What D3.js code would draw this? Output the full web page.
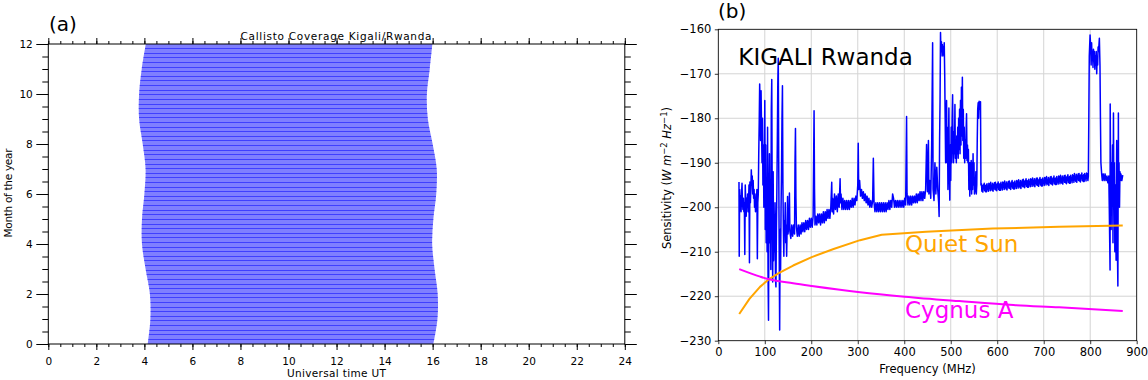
<!DOCTYPE html>
<html>
<head>
<meta charset="utf-8">
<script src="https://cdn.jsdelivr.net/npm/d3@7"></script>
<style>
  body { margin: 0; background: #fff; }
  svg { display: block; }
  text { font-family: "DejaVu Sans", sans-serif; }
</style>
</head>
<body>
<svg id="chart" width="1148" height="380"></svg>
<script>
// ---------- panel (a) data : observing window per month (UT hours)
const coverageMonths = [0, 1, 2, 3, 4, 5, 6, 7, 8, 9, 10, 11, 12];
const sunriseUT = [4.14, 4.25, 4.23, 4.05, 3.90, 3.90, 4.00, 4.05, 3.93, 3.78, 3.78, 3.89, 4.06];
const sunsetUT  = [16.03, 16.20, 16.21, 16.08, 15.98, 16.03, 16.15, 16.17, 16.00, 15.80, 15.76, 15.88, 15.99];
const daysInYear = 365;
const xTicksA = [0, 2, 4, 6, 8, 10, 12, 14, 16, 18, 20, 22, 24];
const yTicksA = [0, 2, 4, 6, 8, 10, 12];

// ---------- panel (b) data : sensitivity spectrum [MHz, dB]
const spectrum = [
 [44.5,-194.3],[45,-211],[46,-196],[47,-200.5],[48,-197.5],[49,-201],[50,-197],[51,-194.6],[52,-199],[53,-200.5],
 [54,-198],[55,-201],[56,-199],[57,-210.6],[58,-195],[59,-199],[60,-202],[61,-198],[62,-200],[63,-197],[64,-201],
 [65,-199],[66,-195],[67,-212.5],[68,-194.3],[69,-199],[70,-196],[71,-191.6],[72,-195],[73,-193],[74,-197],[75,-194],
 [76,-198],[77,-196],[78,-200],[79,-197],[80,-201],[81,-198],[82,-199],[83,-196],[84,-211.6],[85,-199],[86,-197],
 [87,-188],[88,-181],[89,-172.3],[90,-178],[91,-185],[92,-173.8],[93,-182],[94,-190],[95,-180],[96,-195],[97,-186],
 [98,-200],[99,-192],[100,-176],[101,-205],[102,-186],[103,-208],[104,-194],[105,-210],[106,-182],[107,-215],
 [108,-225.4],[109,-198],[110,-188],[111,-208],[112,-196],[113,-214],[114,-178],[115,-171.3],[116,-200],[117,-216.8],
 [118,-192],[119,-212],[120,-203],[121,-210],[122,-199],[123,-216],[124,-217.9],[125,-205],[126,-196],[127,-185],
 [128,-172],[129,-166.5],[130,-190],[131,-210],[132,-227.6],[133,-205],[134,-214],[135,-200],[136,-192],[137,-180],
 [138,-172.7],[139,-195],[140,-205],[141,-211],[142,-203],[143,-206],[144,-199],[145,-208],[146,-204],[147,-211],
 [148,-205],[149,-197.6],[150,-206],[152,-203.5],[153,-196.8],[154,-205.5],[156,-207],[158,-204],[160,-206.5],
 [162,-204],[164,-206],[165,-190],[166,-182.3],[167,-198],[168,-204.5],[170,-206.5],[172,-204],[174,-206.5],
 [176,-204],[178,-206],[180,-203.5],[182,-205.5],[184,-203.5],[186,-205.5],[188,-203],[190,-205],[192,-203],
 [194,-205],[196,-202.5],[198,-204.5],[200,-202.5],[202,-204.5],[204,-202],[206,-178.3],[207,-196],[208,-204],
 [210,-202],[212,-204],[214,-201.5],[216,-203.5],[218,-201.5],[220,-204],[222,-201.5],[224,-203.5],[226,-201],
 [228,-203.5],[230,-201],[232,-203],[234,-200.5],[236,-202.5],[238,-200.5],[240,-202.5],[242,-200],[244,-194.4],
 [245,-201],[246,-198],[248,-201.5],[250,-197],[252,-200.5],[254,-197.5],[256,-201],[258,-197],[260,-200],
 [262,-193.6],[263,-199],[264,-197],[266,-200.5],[268,-198],[270,-200.5],[272,-198.5],[274,-200.5],[276,-198.5],
 [278,-200.5],[280,-198.5],[282,-200.5],[284,-198.5],[286,-200],[288,-198],[290,-200],[292,-198],[294,-199.5],
 [296,-197.5],[298,-198.5],[300,-195],[301,-185.6],[302,-196],[304,-194],[306,-197.5],[308,-196],[310,-198],
 [312,-196.5],[314,-198.5],[316,-197],[318,-199],[320,-197.5],[322,-199.5],[324,-198],[326,-200],[328,-198.5],
 [330,-200],[332,-198.5],[333.5,-189],[335,-199],[337,-201],[339,-199],[341,-201],[343,-199],[345,-201],[347,-199],
 [349,-201],[351,-199],[353,-201],[355,-199],[357,-201],[359,-199],[361,-201],[363,-199],[365,-200.5],[367,-198.5],
 [369,-200.5],[371,-198.5],[373,-200],[375,-197],[377,-198],[379,-200],[381,-198.5],[383,-200],[385,-198.5],
 [387,-200],[389,-198.5],[391,-200],[393,-198.5],[395,-200],[397,-198.5],[399,-200],[401,-198],[403,-199.5],
 [405,-179.6],[406,-197],[408,-199.5],[410,-197.5],[412,-199.5],[414,-197.5],[416,-199.5],[418,-197.5],[420,-199],
 [422,-197.5],[424,-199],[426,-197],[428,-199],[430,-197],[432,-198.5],[434,-196.5],[436,-198.5],[438,-196.5],
 [440,-198.5],[442,-196.5],[444,-198],[446,-196],[448,-185.9],[450,-196.5],[452,-185],[453,-197],[455,-194],
 [457,-198],[459,-186],[461,-163],[462,-196],[464,-198.5],[466,-190],[468,-197],[470,-191],[472,-196],[474,-199],
 [475,-202.1],[476,-185],[477,-176],[478,-160.7],[479,-166],[480,-162.8],[481,-165],[482,-163.5],[483,-166],
 [484,-164],[485,-165.4],[486,-163],[487,-170],[488,-180],[489,-190],[490,-185],[491,-176],[492,-190],[493,-182],
 [494,-196],[495,-188],[496,-177.7],[497,-192],[498,-198.4],[499,-186],[500,-194],[501,-182],[502,-190],[503,-180],
 [504,-174.7],[505,-186],[506,-190],[507,-183],[508,-188],[509,-176.9],[510,-189],[511,-186],[512,-190],[513,-184],
 [514,-188],[515,-182],[516,-189],[517,-180],[518,-187],[519,-178],[520,-188],[521,-176],[522,-186],[523,-173],
 [524,-184],[525,-170.8],[526,-185],[527,-178],[528,-189],[529,-182],[530,-190],[531,-185],[532,-189],[533,-183],
 [534,-179],[535,-189.5],[536,-186],[537,-190],[538,-187],[539,-196],[540,-190],[541,-197.5],[542,-190],[543,-196],
 [544,-189.5],[545,-197],[546,-190],[547,-196],[548,-188],[549,-195],[550,-190],[551,-197],[552,-194],[553,-196.5],
 [554,-192],[555,-197],[556,-195],[557,-185],[558,-178],[559,-176.5],[560,-180],[561,-176.2],[562,-178],[563,-177],
 [564,-176.3],[565,-195],
 [566,-194.7],[567,-196.4],[568,-195.3],[569,-196.6],[570,-195.0],[571,-195.8],[572,-194.6],[573,-196.3],[574,-195.2],[575,-196.5],
 [576,-195.0],[577,-196.5],[578,-194.7],[579,-195.9],[580,-195.3],[581,-196.4],[582,-194.6],[583,-195.8],[584,-194.8],[585,-196.3],
 [586,-194.4],[587,-195.9],[588,-195.1],[589,-196.2],[590,-194.6],[591,-196.4],[592,-195.0],[593,-195.6],[594,-194.5],[595,-196.0],
 [596,-194.4],[597,-196.1],[598,-195.0],[599,-196.3],[600,-194.7],[601,-195.5],[602,-194.3],[603,-196.0],[604,-194.9],[605,-196.2],
 [606,-194.7],[607,-196.2],[608,-194.4],[609,-195.6],[610,-195.0],[611,-196.1],[612,-194.3],[613,-195.5],[614,-194.5],[615,-196.0],
 [616,-194.1],[617,-195.6],[618,-194.8],[619,-195.9],[620,-194.3],[621,-196.1],[622,-194.7],[623,-195.3],[624,-194.2],[625,-195.7],
 [626,-194.1],[627,-195.8],[628,-194.7],[629,-196.0],[630,-194.4],[631,-195.2],[632,-194.0],[633,-195.7],[634,-194.6],[635,-195.9],
 [636,-194.4],[637,-195.9],[638,-194.1],[639,-195.3],[640,-194.7],[641,-195.8],[642,-194.0],[643,-195.2],[644,-194.2],[645,-195.7],
 [646,-193.8],[647,-195.3],[648,-194.5],[649,-195.6],[650,-194.0],[651,-195.8],[652,-194.4],[653,-195.0],[654,-193.9],[655,-195.4],
 [656,-193.7],[657,-195.4],[658,-194.3],[659,-195.6],[660,-194.0],[661,-194.8],[662,-193.6],[663,-195.3],[664,-194.2],[665,-195.5],
 [666,-194.0],[667,-195.5],[668,-193.7],[669,-194.9],[670,-194.3],[671,-195.4],[672,-193.6],[673,-194.8],[674,-193.8],[675,-195.3],
 [676,-193.4],[677,-194.9],[678,-194.1],[679,-195.2],[680,-193.6],[681,-195.4],[682,-194.0],[683,-194.6],[684,-193.5],[685,-195.0],
 [686,-193.4],[687,-195.1],[688,-194.0],[689,-195.3],[690,-193.7],[691,-194.5],[692,-193.3],[693,-195.0],[694,-193.9],[695,-195.2],
 [696,-193.7],[697,-195.2],[698,-193.4],[699,-194.6],[700,-194.0],[701,-195.1],[702,-193.3],[703,-194.5],[704,-193.5],[705,-195.0],
 [706,-193.1],[707,-194.6],[708,-193.8],[709,-194.9],[710,-193.3],[711,-195.1],[712,-193.7],[713,-194.3],[714,-193.2],[715,-194.7],
 [716,-193.1],[717,-194.8],[718,-193.7],[719,-195.0],[720,-193.4],[721,-194.2],[722,-193.0],[723,-194.7],[724,-193.6],[725,-194.9],
 [726,-193.4],[727,-194.9],[728,-193.1],[729,-194.3],[730,-193.7],[731,-194.8],[732,-193.0],[733,-194.2],[734,-193.2],[735,-194.7],
 [736,-192.8],[737,-194.3],[738,-193.5],[739,-194.6],[740,-193.0],[741,-194.8],[742,-193.4],[743,-194.0],[744,-192.9],[745,-194.4],
 [746,-192.8],[747,-194.5],[748,-193.4],[749,-194.7],[750,-193.1],[751,-193.9],[752,-192.7],[753,-194.4],[754,-193.3],[755,-194.6],
 [756,-193.1],[757,-194.6],[758,-192.8],[759,-194.0],[760,-193.4],[761,-194.5],[762,-192.7],[763,-193.9],[764,-192.9],[765,-194.4],
 [766,-192.4],[767,-193.9],[768,-193.1],[769,-194.2],[770,-192.6],[771,-194.4],[772,-193.0],[773,-193.6],[774,-192.5],[775,-194.0],
 [776,-192.4],[777,-194.1],[778,-193.0],[779,-194.3],[780,-192.7],[781,-193.5],[782,-192.3],[783,-194.0],[784,-192.9],[785,-194.2],
 [786,-192.7],[787,-194.2],[788,-192.4],[789,-193.6],[790,-193.0],[791,-194.1],[792,-192.3],[793,-193.5],[794,-192.5],[795,-194.0],
 [796,-193],
 [797,-180],[798,-166],[799.7,-161.3],[801,-164],[802,-168],[803,-163],[804,-167],[805,-165],[806,-168.6],
 [807,-164.5],[808,-167],[809,-165],[810,-169],[811,-166],[812,-168],[813,-165],[814,-170],[815,-166],[816,-168],
 [817,-164],[818,-165],[819.7,-162],[821,-168],[822,-180],[823,-190],[824.7,-192.6],[826,-194],[828,-192.5],
 [830,-194],[832,-192.5],[834,-194],[836,-193],[838,-194.5],[840,-193],[841,-200],[842.7,-214.1],[843,-176.8],
 [844,-195],[845,-205],[846,-190],[847,-198],[848,-186],[849,-208],[850,-178.8],[851,-200],[852,-190],[853,-210],
 [854,-195],[855.7,-211.9],[856,-200],[857,-185],[858,-205],[859.5,-217.7],[860.6,-178.8],[861,-196],[862,-190],
 [863,-200],[864,-192],[865,-194],[866,-192.5],[868,-194],[870,-192.8]
];
const quietSun = [[45,-224],[67,-220.6],[89.7,-217.9],[108.8,-216.2],[130,-214.8],[161,-213.1],[201,-211.2],
 [248,-209.4],[305,-207.4],[351.5,-206.2],[447,-205.5],[590,-204.8],[733,-204.4],[870,-204.1]];
const cygnusA = [[45,-213.9],[90,-215.6],[109,-216.2],[161,-217.1],[201,-217.7],[305,-219.1],[401,-220.1],
 [519,-221.1],[635,-222],[733,-222.5],[870,-223.3]];
const xTicksB = [0, 100, 200, 300, 400, 500, 600, 700, 800, 900];
const yTicksB = [-230, -220, -210, -200, -190, -180, -170, -160];

const svg = d3.select('#chart');

// ================= panel (a) =================
const xa = d3.scaleLinear().domain([0, 24]).range([48.3, 624.8]);
const ya = d3.scaleLinear().domain([0, 12]).range([344, 44]);

const covArea = d3.area()
  .curve(d3.curveCatmullRom)
  .y((d, i) => ya(coverageMonths[i]))
  .x0((d, i) => xa(sunriseUT[i]))
  .x1((d, i) => xa(sunsetUT[i]));

svg.append('clipPath').attr('id', 'covclip')
  .append('path').attr('d', covArea(coverageMonths));

// one line per day, clipped to the observing window
svg.append('g').attr('clip-path', 'url(#covclip)')
  .selectAll('line').data(d3.range(daysInYear)).join('line')
  .attr('x1', xa(0)).attr('x2', xa(24))
  .attr('y1', d => ya(d * 12 / daysInYear)).attr('y2', d => ya(d * 12 / daysInYear))
  .attr('stroke', '#0000ff').attr('stroke-width', 1).attr('stroke-opacity', 0.5)
  .attr('shape-rendering', 'crispEdges');

function idl(g) {
  g.select('.domain').remove();
  g.selectAll('line').attr('stroke', '#000');
  g.selectAll('text').attr('font-size', 10.5).attr('fill', '#000');
}
// minor ticks
svg.append('g').attr('transform', `translate(0,${ya(0)})`)
  .call(d3.axisBottom(xa).ticks(48).tickSize(3).tickFormat('')).call(idl);
svg.append('g').attr('transform', `translate(0,${ya(12)})`)
  .call(d3.axisTop(xa).ticks(48).tickSize(3).tickFormat('')).call(idl);
svg.append('g').attr('transform', `translate(${xa(0)},0)`)
  .call(d3.axisLeft(ya).ticks(24).tickSize(6).tickFormat('')).call(idl);
svg.append('g').attr('transform', `translate(${xa(24)},0)`)
  .call(d3.axisRight(ya).ticks(24).tickSize(6).tickFormat('')).call(idl);
// major ticks
svg.append('g').attr('transform', `translate(0,${ya(0)})`)
  .call(d3.axisBottom(xa).tickValues(xTicksA).tickSize(6).tickPadding(7.5)).call(idl);
svg.append('g').attr('transform', `translate(0,${ya(12)})`)
  .call(d3.axisTop(xa).tickValues(xTicksA).tickSize(6).tickFormat('')).call(idl);
svg.append('g').attr('transform', `translate(${xa(0)},0)`)
  .call(d3.axisLeft(ya).tickValues(yTicksA).tickSize(12).tickPadding(3.5)).call(idl);
svg.append('g').attr('transform', `translate(${xa(24)},0)`)
  .call(d3.axisRight(ya).tickValues(yTicksA).tickSize(12).tickFormat('')).call(idl);

svg.append('rect').attr('x', xa(0)).attr('y', ya(12))
  .attr('width', xa(24) - xa(0)).attr('height', ya(0) - ya(12))
  .attr('fill', 'none').attr('stroke', '#000').attr('stroke-width', 1);

svg.append('text').attr('x', 336).attr('y', 39.5).attr('text-anchor', 'middle')
  .attr('font-size', 10.5).attr('textLength', 191).attr('lengthAdjust', 'spacing')
  .text('Callisto Coverage Kigali/Rwanda');
svg.append('text').attr('x', 336.5).attr('y', 377).attr('text-anchor', 'middle')
  .attr('font-size', 10.5).attr('textLength', 99).attr('lengthAdjust', 'spacing')
  .text('Universal time UT');
svg.append('text').attr('transform', 'translate(12,193) rotate(-90)').attr('text-anchor', 'middle')
  .attr('font-size', 10.5).attr('textLength', 89).attr('lengthAdjust', 'spacing')
  .text('Month of the year');
svg.append('text').attr('x', 49).attr('y', 30.5).attr('font-size', 20).text('(a)');

// ================= panel (b) =================
const xb = d3.scaleLinear().domain([0, 900]).range([718.3, 1136.7]);
const yb = d3.scaleLinear().domain([-230, -160]).range([340.7, 29.3]);
const minus = d => (d < 0 ? '\u2212' + Math.abs(d) : String(d));

const grid = svg.append('g').attr('stroke', '#d4d4d4').attr('stroke-width', 1);
grid.selectAll('.gx').data(xTicksB).join('line').attr('class', 'gx')
  .attr('x1', d => xb(d)).attr('x2', d => xb(d)).attr('y1', yb(-160)).attr('y2', yb(-230));
grid.selectAll('.gy').data(yTicksB).join('line').attr('class', 'gy')
  .attr('x1', xb(0)).attr('x2', xb(900)).attr('y1', d => yb(d)).attr('y2', d => yb(d));

const line = d3.line().x(d => xb(d[0])).y(d => yb(d[1]));
svg.append('path').attr('d', line(spectrum)).attr('fill', 'none')
  .attr('stroke', '#0000ff').attr('stroke-width', 1.5).attr('stroke-linejoin', 'round');
svg.append('path').attr('d', line(quietSun)).attr('fill', 'none')
  .attr('stroke', 'orange').attr('stroke-width', 2).attr('stroke-linejoin', 'round');
svg.append('path').attr('d', line.curve(d3.curveMonotoneX)(cygnusA)).attr('fill', 'none')
  .attr('stroke', '#ff00ff').attr('stroke-width', 2);

function mpl(g) {
  g.select('.domain').remove();
  g.selectAll('line').attr('stroke', '#000').attr('stroke-width', 0.8);
  g.selectAll('text').attr('font-size', 11.5).attr('fill', '#000');
}
svg.append('g').attr('transform', `translate(0,${yb(-230)})`)
  .call(d3.axisBottom(xb).tickValues(xTicksB).tickSize(3.5).tickPadding(3.5).tickFormat(minus)).call(mpl);
svg.append('g').attr('transform', `translate(${xb(0)},0)`)
  .call(d3.axisLeft(yb).tickValues(yTicksB).tickSize(3.5).tickPadding(3.5).tickFormat(minus)).call(mpl);

svg.append('rect').attr('x', xb(0)).attr('y', yb(-160))
  .attr('width', xb(900) - xb(0)).attr('height', yb(-230) - yb(-160))
  .attr('fill', 'none').attr('stroke', '#000').attr('stroke-width', 0.8);

svg.append('text').attr('x', 738.3).attr('y', 65).attr('font-size', 23).text('KIGALI Rwanda');
svg.append('text').attr('x', 905).attr('y', 251.5).attr('font-size', 23).attr('fill', 'orange').text('Quiet Sun');
svg.append('text').attr('x', 905).attr('y', 318.3).attr('font-size', 23).attr('fill', '#ff00ff').text('Cygnus A');

svg.append('text').attr('x', 927.5).attr('y', 372.5).attr('text-anchor', 'middle')
  .attr('font-size', 11.5).text('Frequency (MHz)');

const yl = svg.append('text').attr('transform', 'translate(671,178) rotate(-90)')
  .attr('text-anchor', 'middle').attr('font-size', 11.5);
yl.append('tspan').text('Sensitivity (');
yl.append('tspan').attr('font-style', 'italic').text('W m');
yl.append('tspan').attr('font-size', 8.5).attr('dy', -4.5).text('\u22122');
yl.append('tspan').attr('dy', 4.5).text(' ');
yl.append('tspan').attr('font-style', 'italic').text('Hz');
yl.append('tspan').attr('font-size', 8.5).attr('dy', -4.5).text('\u22121');
yl.append('tspan').attr('dy', 4.5).text(')');

svg.append('text').attr('x', 718).attr('y', 17.5).attr('font-size', 20).text('(b)');
</script>
</body>
</html>
